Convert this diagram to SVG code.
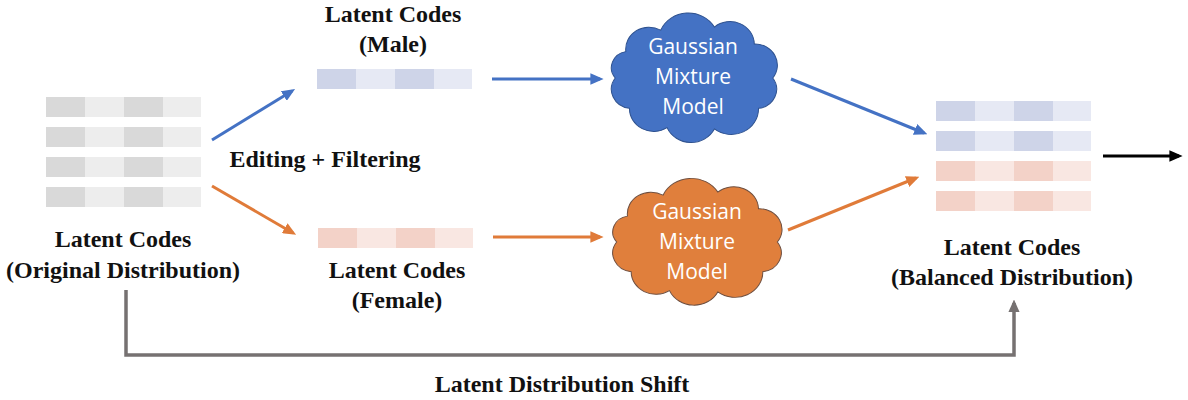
<svg xmlns="http://www.w3.org/2000/svg" xmlns:xlink="http://www.w3.org/1999/xlink" width="1188" height="400" viewBox="0 0 1188 400">
<style>
.lbl{font-family:"Liberation Serif","Times New Roman",serif;font-weight:bold;font-size:24px;fill:#111;text-anchor:middle}
.cl{font-family:"Open Sans","Liberation Sans",sans-serif;font-size:21px;fill:#fff;text-anchor:middle}
.gd{fill:#d9d9d9}.gl{fill:#ededed}
.bd{fill:#ced4e8}.bl{fill:#e6e9f4}
.od{fill:#f3d2c8}.ol{fill:#f9e7e2}
.ab{stroke:#4472c4;stroke-width:3;fill:none;marker-end:url(#mb)}
.ao{stroke:#e07b39;stroke-width:3;fill:none;marker-end:url(#mo)}
.ak{stroke:#000;stroke-width:3;fill:none;marker-end:url(#mk)}
.ag{stroke:#767171;stroke-width:3.5;fill:none;marker-end:url(#mg)}
</style>
<defs>
<marker id="mb" markerWidth="4.4" markerHeight="3.8" refX="3.2" refY="1.9" orient="auto" markerUnits="strokeWidth"><path d="M0,0 L4.4,1.9 L0,3.8 z" fill="#4472c4"/></marker>
<marker id="mo" markerWidth="4.4" markerHeight="3.8" refX="3.2" refY="1.9" orient="auto" markerUnits="strokeWidth"><path d="M0,0 L4.4,1.9 L0,3.8 z" fill="#e07b39"/></marker>
<marker id="mk" markerWidth="4.4" markerHeight="3.8" refX="3.2" refY="1.9" orient="auto" markerUnits="strokeWidth"><path d="M0,0 L4.4,1.9 L0,3.8 z" fill="#000"/></marker>
<marker id="mg" markerWidth="3.6" markerHeight="3.2" refX="2.6" refY="1.6" orient="auto" markerUnits="strokeWidth"><path d="M0,0 L3.6,1.6 L0,3.2 z" fill="#767171"/></marker>
<path id="cloud" d="M78,0 A20,20 0 0 1 63.9,31.6 A27,27 0 0 1 20.2,53.1 A26,26 0 0 1 -26.7,51.7 A24,24 0 0 1 -63.9,31.6 A20,20 0 0 1 -78,0 A17,17 0 0 1 -67.5,-27.5 A23,23 0 0 1 -33,-49.8 A30,30 0 0 1 20.2,-53.1 A24,24 0 0 1 59.7,-35.4 A22,22 0 0 1 78,0 Z"/>
</defs>
<rect width="1188" height="400" fill="#fff"/>

<g id="original">
<rect class="gd" x="46" y="97" width="39" height="20"/><rect class="gl" x="85" y="97" width="39" height="20"/><rect class="gd" x="124" y="97" width="39" height="20"/><rect class="gl" x="163" y="97" width="38" height="20"/>
<rect class="gd" x="46" y="127" width="39" height="20"/><rect class="gl" x="85" y="127" width="39" height="20"/><rect class="gd" x="124" y="127" width="39" height="20"/><rect class="gl" x="163" y="127" width="38" height="20"/>
<rect class="gd" x="46" y="157" width="39" height="20"/><rect class="gl" x="85" y="157" width="39" height="20"/><rect class="gd" x="124" y="157" width="39" height="20"/><rect class="gl" x="163" y="157" width="38" height="20"/>
<rect class="gd" x="46" y="187" width="39" height="20"/><rect class="gl" x="85" y="187" width="39" height="20"/><rect class="gd" x="124" y="187" width="39" height="20"/><rect class="gl" x="163" y="187" width="38" height="20"/>
<text class="lbl" x="123" y="247">Latent Codes</text>
<text class="lbl" x="123" y="278">(Original Distribution)</text>
</g>

<g id="male">
<rect class="bd" x="317" y="69" width="39" height="20"/><rect class="bl" x="356" y="69" width="39" height="20"/><rect class="bd" x="395" y="69" width="39" height="20"/><rect class="bl" x="434" y="69" width="38" height="20"/>
<text class="lbl" x="393" y="22">Latent Codes</text>
<text class="lbl" x="393" y="52">(Male)</text>
</g>

<g id="female">
<rect class="od" x="318" y="228" width="39" height="20"/><rect class="ol" x="357" y="228" width="39" height="20"/><rect class="od" x="396" y="228" width="39" height="20"/><rect class="ol" x="435" y="228" width="38" height="20"/>
<text class="lbl" x="397" y="278">Latent Codes</text>
<text class="lbl" x="397" y="308">(Female)</text>
</g>

<g id="gmm-male">
<use xlink:href="#cloud" href="#cloud" transform="translate(694,78) scale(1.01,0.96)" fill="#4472c4" stroke="#2f528f" stroke-width="1"/>
<text class="cl" x="693" y="54">Gaussian</text>
<text class="cl" x="693" y="84">Mixture</text>
<text class="cl" x="693" y="114">Model</text>
</g>

<g id="gmm-female">
<use xlink:href="#cloud" href="#cloud" transform="translate(697,242) scale(1.03,0.94)" fill="#e07f3c" stroke="#6e4f40" stroke-width="1"/>
<text class="cl" x="697" y="219">Gaussian</text>
<text class="cl" x="697" y="249">Mixture</text>
<text class="cl" x="697" y="279">Model</text>
</g>

<g id="balanced">
<rect class="bd" x="936" y="101" width="39" height="20"/><rect class="bl" x="975" y="101" width="39" height="20"/><rect class="bd" x="1014" y="101" width="39" height="20"/><rect class="bl" x="1053" y="101" width="38" height="20"/>
<rect class="bd" x="936" y="131" width="39" height="20"/><rect class="bl" x="975" y="131" width="39" height="20"/><rect class="bd" x="1014" y="131" width="39" height="20"/><rect class="bl" x="1053" y="131" width="38" height="20"/>
<rect class="od" x="936" y="161" width="39" height="20"/><rect class="ol" x="975" y="161" width="39" height="20"/><rect class="od" x="1014" y="161" width="39" height="20"/><rect class="ol" x="1053" y="161" width="38" height="20"/>
<rect class="od" x="936" y="191" width="39" height="20"/><rect class="ol" x="975" y="191" width="39" height="20"/><rect class="od" x="1014" y="191" width="39" height="20"/><rect class="ol" x="1053" y="191" width="38" height="20"/>
<text class="lbl" x="1012" y="255">Latent Codes</text>
<text class="lbl" x="1012" y="285">(Balanced Distribution)</text>
</g>

<g id="connectors">
<line class="ab" x1="212" y1="140" x2="292" y2="91"/>
<line class="ao" x1="212" y1="186" x2="293" y2="233"/>
<line class="ab" x1="492" y1="79" x2="600" y2="79"/>
<line class="ao" x1="493" y1="237" x2="600" y2="237"/>
<line class="ab" x1="791" y1="79" x2="924" y2="133"/>
<line class="ao" x1="788" y1="230" x2="916" y2="178"/>
<line class="ak" x1="1103" y1="156" x2="1179" y2="156"/>
<path class="ag" d="M126,290 V355 H1014 V303"/>
<text class="lbl" x="562" y="392">Latent Distribution Shift</text>
<text class="lbl" x="325" y="167">Editing + Filtering</text>
</g>
</svg>
